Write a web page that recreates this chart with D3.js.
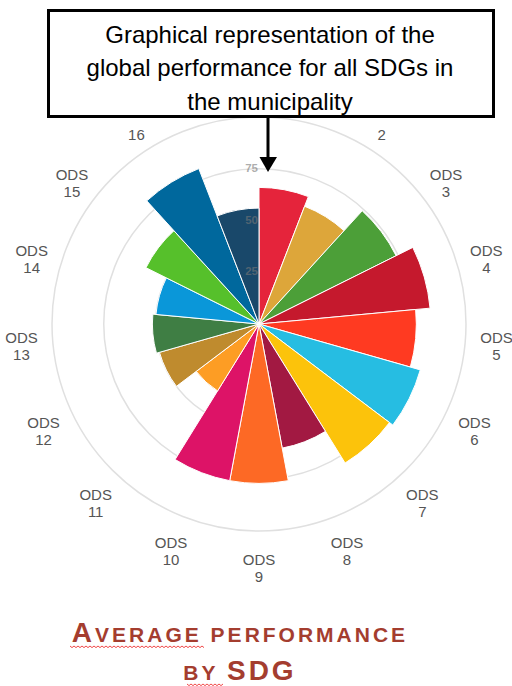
<!DOCTYPE html>
<html><head><meta charset="utf-8">
<script src="https://cdn.jsdelivr.net/npm/d3@7/dist/d3.min.js"></script>
<style>html,body{margin:0;padding:0;background:#fff;} svg{display:block}</style>
</head><body>
<svg id="c" width="512" height="686"></svg>
<script>
const categories = ["ODS 1","ODS 2","ODS 3","ODS 4","ODS 5","ODS 6","ODS 7","ODS 8","ODS 9","ODS 10","ODS 11","ODS 12","ODS 13","ODS 14","ODS 15","ODS 16","ODS 17"];
const values = [66, 61, 74, 83, 76, 81, 79, 61, 77, 77, 38, 50, 51.5, 50, 61, 80.5, 56];
const colors = ["#E5243B","#DDA63A","#4C9F38","#C5192D","#FF3A21","#26BDE2","#FCC30B","#A21942","#FD6925","#DD1367","#FD9D24","#BF8B2E","#3F7E44","#0A97D9","#56C02B","#00689D","#19486A"];
const gridTicks = [25, 50, 75, 100];
const tickLabels = [25, 50, 75];
const boxText = ["Graphical representation of the", "global performance for all SDGs in", "the municipality"];
const titleLines = [[["A",28],["VERAGE PERFORMANCE",21]], [["BY ",21],["SDG",28]]];

const svg = d3.select("#c");
const cx = 259, cy = 324;
const boxBottom = 118;
const r = d3.scaleLinear().domain([0, 100]).range([0, 207]);
const ang = d3.scaleBand().domain(categories).range([0, 2 * Math.PI]);
const col = d3.scaleOrdinal().domain(categories).range(colors);

const g = svg.append("g").attr("transform", `translate(${cx},${cy})`);

// grid
g.selectAll("circle.grid").data(gridTicks).join("circle")
  .attr("class", "grid").attr("r", d => r(d))
  .attr("fill", "none").attr("stroke", "#e0e0e0").attr("stroke-width", 1.5);

// bars
const arc = d3.arc().innerRadius(0)
  .outerRadius(d => r(d.v))
  .startAngle(d => ang(d.c))
  .endAngle(d => ang(d.c) + ang.bandwidth());
const data = categories.map((c, i) => ({c, v: values[i]}));
g.selectAll("path.bar").data(data).join("path")
  .attr("class", "bar").attr("d", arc)
  .attr("fill", d => col(d.c)).attr("stroke", "#fff").attr("stroke-width", 1);

// tick labels
g.selectAll("text.tick").data(tickLabels).join("text")
  .attr("class", "tick")
  .attr("x", -1).attr("y", d => -r(d))
  .attr("text-anchor", "end").attr("dominant-baseline", "middle")
  .attr("font-family", "Liberation Sans, Arial, sans-serif")
  .attr("font-size", 11.5).attr("font-weight", "bold")
  .attr("fill", "#777").attr("fill-opacity", 0.6)
  .text(d => d);

// category labels (parts hidden under the annotation box are not drawn)
const labPos = c => {
  const a = ang(c) + ang.bandwidth() / 2;
  const D = 238 - 6 * Math.cos(a);
  return [D * Math.sin(a), -D * Math.cos(a)];
};
const visible = categories.filter(c => cy + labPos(c)[1] + 3 > boxBottom);
const lab = g.selectAll("g.lab").data(visible).join("g").attr("class", "lab")
  .attr("transform", c => `translate(${labPos(c)})`);
lab.each(function(c) {
  const parts = c.split(" ");
  const y0 = cy + labPos(c)[1];
  const t = d3.select(this).append("text")
    .attr("text-anchor", "middle")
    .attr("font-family", "Liberation Sans, Arial, sans-serif")
    .attr("font-size", 15).attr("fill", "#555");
  if (y0 - 14 > boxBottom + 2) t.append("tspan").attr("x", 0).attr("y", -3).text(parts[0]);
  t.append("tspan").attr("x", 0).attr("y", 14).text(parts[1]);
});

// annotation box
svg.append("rect").attr("x", 48.5).attr("y", 10.5).attr("width", 445).attr("height", 106)
  .attr("fill", "#fff").attr("stroke", "#000").attr("stroke-width", 3);
svg.selectAll("text.box").data(boxText).join("text").attr("class", "box")
  .attr("x", 270).attr("y", (d, i) => 43 + i * 33.3)
  .attr("text-anchor", "middle")
  .attr("font-family", "Liberation Sans, Arial, sans-serif")
  .attr("font-size", 24).attr("fill", "#000")
  .text(d => d);
// arrow
svg.append("line").attr("x1", 268).attr("x2", 268).attr("y1", 118).attr("y2", 158)
  .attr("stroke", "#000").attr("stroke-width", 3);
svg.append("path").attr("d", "M259.5,157 L277,157 L268,172 Z").attr("fill", "#000");

// title
const titleY = [642, 680];
titleLines.forEach((line, i) => {
  const t = svg.append("text").attr("x", 240).attr("y", titleY[i])
    .attr("text-anchor", "middle")
    .attr("font-family", "Liberation Sans, Arial, sans-serif")
    .attr("font-weight", "bold").attr("fill", "#a43d2f")
    .attr("letter-spacing", 3);
  line.forEach(([s, fs]) => t.append("tspan").attr("font-size", fs).text(s));
});
// spell-check squiggles
function squiggle(x0, x1, y) {
  let d = `M${x0},${y}`;
  for (let x = x0, k = 0; x < x1; x += 2, k++) d += ` L${x + 2},${y + (k % 2 ? 0 : 1.6)}`;
  svg.append("path").attr("d", d).attr("fill", "none").attr("stroke", "#e33").attr("stroke-width", 0.9);
}
squiggle(70, 204, 646);
squiggle(187, 223, 684);
</script>
</body></html>
